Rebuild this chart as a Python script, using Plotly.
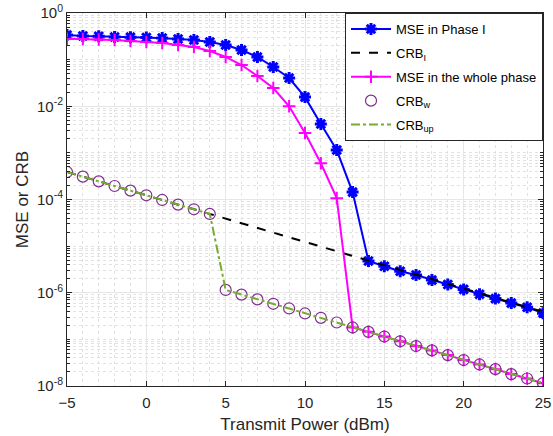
import plotly.graph_objects as go

power_dbm = list(range(-5, 26))

mse_phase1 = [0.337, 0.321, 0.318, 0.305, 0.303, 0.298, 0.291, 0.277, 0.263, 0.239,
              0.206, 0.161, 0.114, 0.0694, 0.0403, 0.0157, 0.00415, 0.00115, 1.44e-4, 4.8e-6,
              3.7e-6, 2.9e-6, 2.4e-6, 1.87e-6, 1.5e-6, 1.18e-6, 9.3e-7, 7.5e-7, 6.0e-7, 4.9e-7,
              3.65e-7]

crb_phase1 = [3.89e-4, 3.09e-4, 2.45e-4, 1.95e-4, 1.55e-4, 1.23e-4, 9.77e-5, 7.76e-5, 6.17e-5, 4.90e-5,
              3.89e-5, 3.09e-5, 2.45e-5, 1.95e-5, 1.55e-5, 1.23e-5, 9.77e-6, 7.76e-6, 6.17e-6, 4.90e-6,
              3.89e-6, 3.09e-6, 2.45e-6, 1.95e-6, 1.55e-6, 1.23e-6, 9.77e-7, 7.76e-7, 6.17e-7, 4.90e-7,
              3.89e-7]

mse_whole = [0.281, 0.277, 0.270, 0.263, 0.251, 0.239, 0.227, 0.206, 0.186, 0.153,
             0.114, 0.0766, 0.0445, 0.0246, 0.0100, 0.00266, 6.0e-4, 1.07e-4, 1.8e-7, 1.45e-7,
             1.15e-7, 9.1e-8, 7.2e-8, 5.8e-8, 4.6e-8, 3.6e-8, 2.9e-8, 2.3e-8, 1.8e-8, 1.45e-8,
             1.15e-8]

crb_whole = [3.89e-4, 3.09e-4, 2.45e-4, 1.95e-4, 1.55e-4, 1.23e-4, 9.77e-5, 7.76e-5, 6.17e-5, 4.90e-5,
             1.15e-6, 9.1e-7, 7.2e-7, 5.8e-7, 4.6e-7, 3.6e-7, 2.9e-7, 2.3e-7, 1.8e-7, 1.45e-7,
             1.15e-7, 9.1e-8, 7.2e-8, 5.8e-8, 4.6e-8, 3.6e-8, 2.9e-8, 2.3e-8, 1.8e-8, 1.45e-8,
             1.15e-8]

crb_up = list(crb_whole)

y_tick_vals = [1e0, 1e-2, 1e-4, 1e-6, 1e-8]
y_tick_text = ["10<sup>0</sup>", "10<sup>-2</sup>", "10<sup>-4</sup>", "10<sup>-6</sup>", "10<sup>-8</sup>"]
x_tick_vals = [-5, 0, 5, 10, 15, 20, 25]

y_minor_vals = [k * 10.0 ** n for n in range(-8, 0) for k in range(1, 10)
                if not (k == 1 and n % 2 == 0)]

FONT = "Liberation Sans, Arial, sans-serif"

fig = go.Figure()

fig.add_trace(go.Scatter(
    x=power_dbm, y=mse_phase1, mode="lines+markers", name="MSE in Phase I",
    line=dict(color="#0000FF", width=2),
    marker=dict(symbol="asterisk-open", size=10, color="#0000FF", line=dict(color="#0000FF", width=3)),
    legendgroup="a"))
fig.add_trace(go.Scatter(
    x=power_dbm, y=crb_phase1, mode="lines", name="CRB<sub>I</sub>",
    line=dict(color="#000000", width=2, dash="dash"), legendgroup="b"))
fig.add_trace(go.Scatter(
    x=power_dbm, y=mse_whole, mode="lines+markers", name="MSE in the whole phase",
    line=dict(color="#FF00FF", width=2),
    marker=dict(symbol="cross-thin-open", size=9, color="#FF00FF", line=dict(color="#FF00FF", width=2)),
    legendgroup="c"))
fig.add_trace(go.Scatter(
    x=power_dbm, y=crb_whole, mode="markers", name="CRB<sub>w</sub>",
    marker=dict(symbol="circle-open", size=11, color="#7E2F8E", line=dict(color="#7E2F8E", width=1.2)),
    legendgroup="d"))
fig.add_trace(go.Scatter(
    x=power_dbm, y=crb_up, mode="lines", name="CRB<sub>up</sub>",
    line=dict(color="#77AC30", width=2, dash="dashdot"), legendgroup="e"))

axis_common = dict(
    showline=True, linecolor="#262626", linewidth=1, mirror="ticks",
    ticks="inside", ticklen=5, tickcolor="#262626",
    showgrid=True, gridcolor="#E6E6E6", gridwidth=1, zeroline=False,
    automargin=False,
    tickfont=dict(family=FONT, size=15, color="#262626"),
)

fig.update_xaxes(
    range=[-5, 25], tickvals=x_tick_vals, ticklabelstandoff=3,
    title=dict(text="Transmit Power (dBm)", font=dict(family=FONT, size=17, color="#262626"), standoff=8),
    minor=dict(dtick=1, tick0=0, showgrid=True, griddash="dot", gridcolor="#E2E2E2", gridwidth=1, ticks=""),
    **axis_common)

fig.update_yaxes(
    type="log", range=[-8, 0], tickvals=y_tick_vals, ticktext=y_tick_text,
    title=dict(text="MSE or CRB", font=dict(family=FONT, size=17, color="#262626"), standoff=4),
    minor=dict(tickvals=y_minor_vals, showgrid=True, griddash="dot", gridcolor="#E2E2E2", gridwidth=1,
               ticks="inside", ticklen=3, tickcolor="#262626"),
    **axis_common)

fig.update_layout(
    width=553, height=436,
    margin=dict(l=67, r=10, t=13, b=50),
    paper_bgcolor="white", plot_bgcolor="white",
    font=dict(family=FONT, color="#262626"),
    legend=dict(x=1, xanchor="right", y=1, yanchor="top",
                bgcolor="white", bordercolor="#262626", borderwidth=1,
                font=dict(family=FONT, size=13, color="#000000"),
                tracegroupgap=4, itemwidth=40, traceorder="grouped"),
    showlegend=True,
)

fig.write_html("out.html")
